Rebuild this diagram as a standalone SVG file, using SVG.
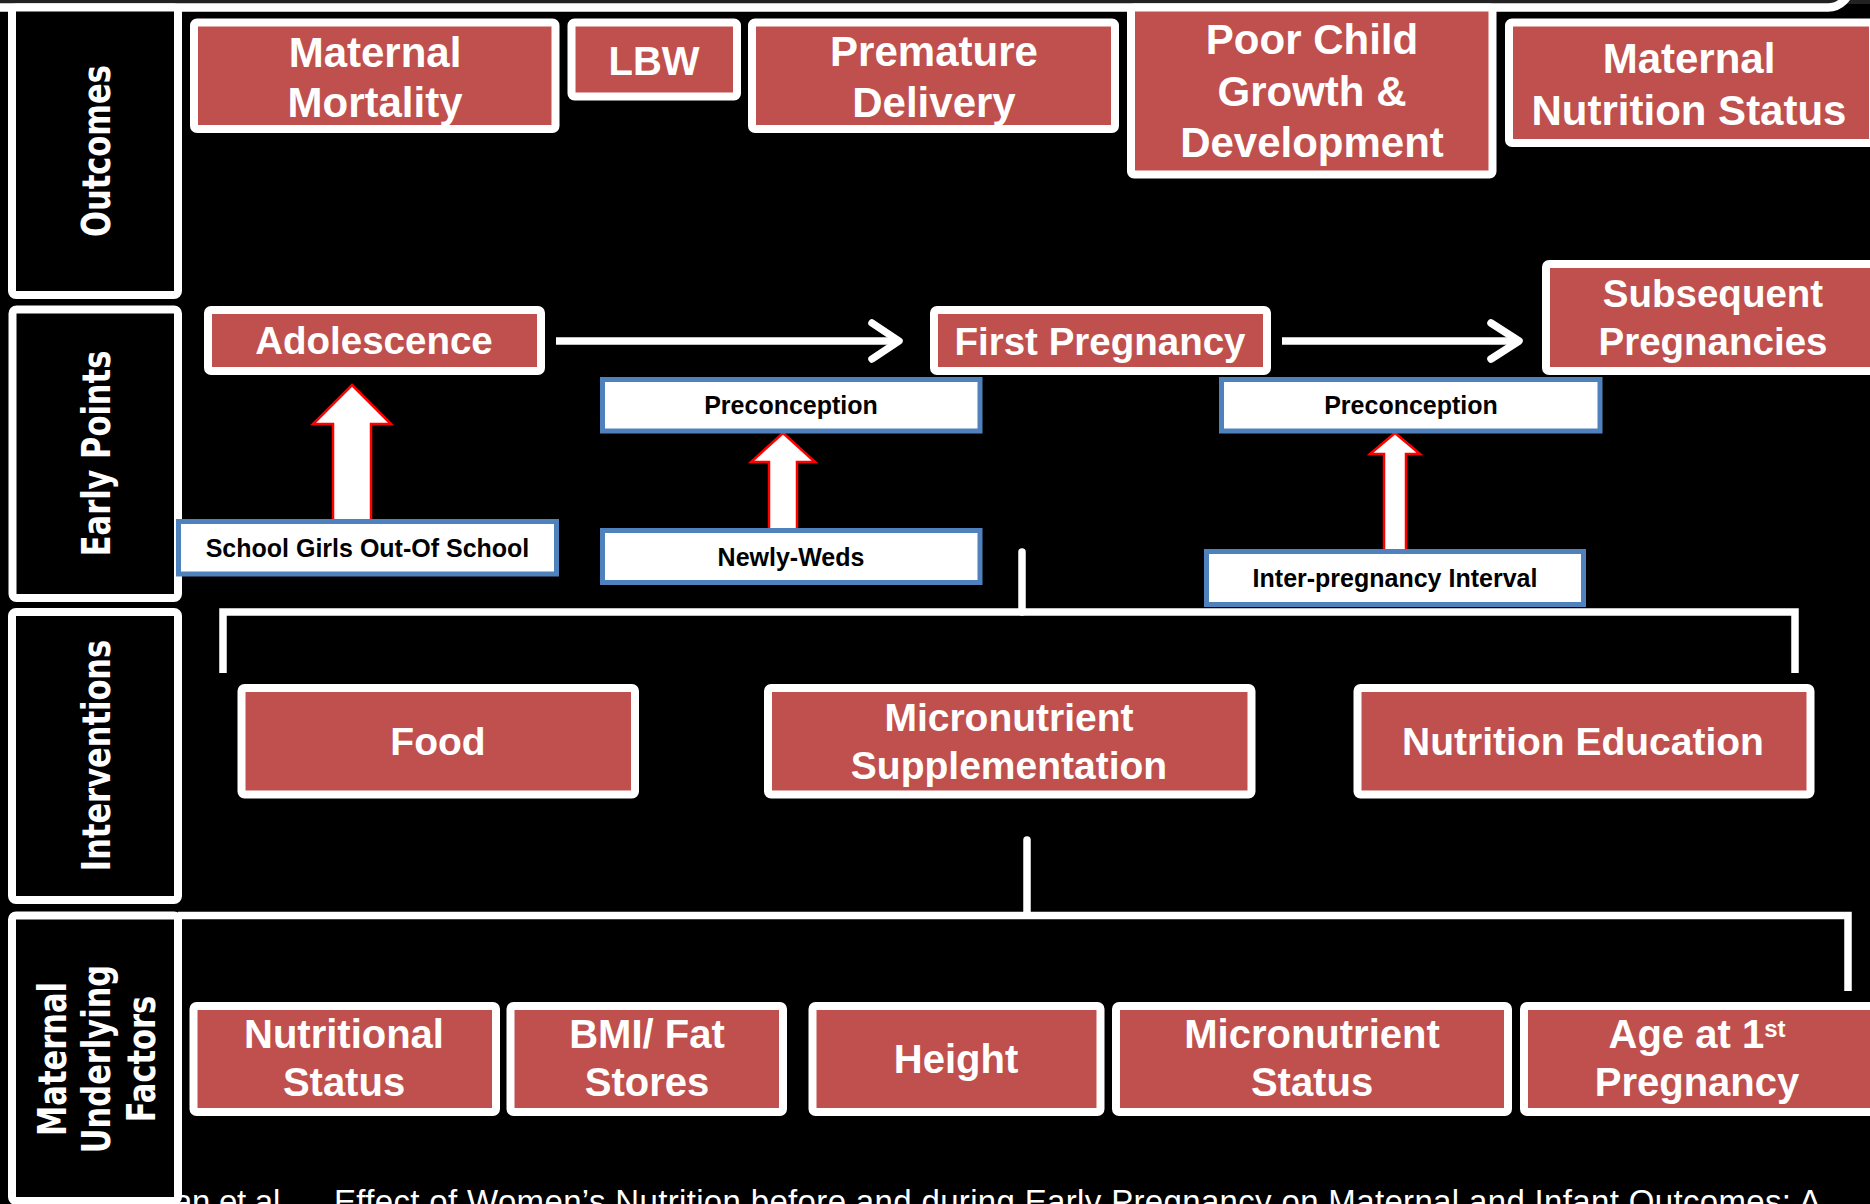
<svg xmlns="http://www.w3.org/2000/svg" width="1870" height="1204" viewBox="0 0 1870 1204">
<defs>
<style>
.red rect {fill:#C0504D; stroke:#FFFFFF; stroke-width:8;}
.red text {fill:#FFFFFF; font-family:"Liberation Sans", Arial, sans-serif; font-weight:bold; text-anchor:middle;}
.blue rect {fill:#FFFFFF; stroke:#4F81BD; stroke-width:5;}
.blue text {fill:#000000; font-family:"Liberation Sans", Arial, sans-serif; font-weight:bold; font-size:25px; text-anchor:middle;}
.lab rect {fill:#000000; stroke:#FFFFFF; stroke-width:8;}
.lab text {fill:#FFFFFF; font-family:"DejaVu Sans", Verdana, sans-serif; font-weight:bold; font-size:30.5px; text-anchor:middle;}
.wire {fill:none; stroke:#FFFFFF; stroke-width:7.5;}
.chev {fill:none; stroke:#FFFFFF; stroke-width:7.5; stroke-linecap:round; stroke-linejoin:round;}
.block {fill:#FFFFFF; stroke:#FF0000; stroke-width:2.5;}
.cite {fill:#FFFFFF; font-family:"Liberation Sans", Arial, sans-serif; font-size:33px;}
</style>
</defs>
<rect x="0" y="0" width="1870" height="1204" fill="#000000"/>
<rect x="0" y="0" width="1870" height="4" fill="#222222"/>
<path d="M 0 7.5 H 1828 A 22 22 0 0 0 1850 -14.5" fill="none" stroke="#FFFFFF" stroke-width="8.5"/>

<text class="cite" x="174" y="1213" textLength="124">an et al.,</text>
<text class="cite" x="334" y="1213" textLength="1487">Effect of Women’s Nutrition before and during Early Pregnancy on Maternal and Infant Outcomes: A</text>

<g id="label-outcomes" class="lab">
<rect x="12" y="7.5" width="166" height="287.5" rx="4"/>
<text transform="translate(110,151) scale(1.3,1) rotate(-90)">Outcomes</text>
</g>
<g id="label-early-points" class="lab">
<rect x="12.5" y="309.5" width="165.5" height="288.5" rx="4"/>
<text transform="translate(110,453.5) scale(1.3,1) rotate(-90)">Early Points</text>
</g>
<g id="label-interventions" class="lab">
<rect x="12" y="612" width="166" height="288" rx="4"/>
<text transform="translate(110,755.5) scale(1.3,1) rotate(-90)">Interventions</text>
</g>
<g id="label-underlying" class="lab">
<rect x="12" y="915.5" width="166" height="285.5" rx="4"/>
<text transform="translate(66,1059) scale(1.3,1) rotate(-90)">Maternal</text>
<text transform="translate(110,1059) scale(1.3,1) rotate(-90)">Underlying</text>
<text transform="translate(155,1059) scale(1.3,1) rotate(-90)">Factors</text>
</g>

<g id="connectors">
<path class="wire" d="M 556 341 H 897"/>
<path class="chev" d="M 872 323 L 899 341 L 872 359"/>
<path class="wire" d="M 1282 341 H 1517"/>
<path class="chev" d="M 1491 323 L 1519 341 L 1491 359"/>
<polygon class="block" points="352,385 391,424 371,424 371,523 333,523 333,424 313,424"/>
<polygon class="block" points="783,433 815,462 797,462 797,532 769,532 769,462 751,462"/>
<polygon class="block" points="1395,433 1420,454 1406,454 1406,553 1384,553 1384,454 1370,454"/>
<path class="wire" d="M 1022 552 V 612" stroke-linecap="round"/>
<path class="wire" d="M 223 673 V 612 H 1795 V 673"/>
<path class="wire" d="M 1027 840 V 915" stroke-linecap="round"/>
<path class="wire" d="M 178 915.5 H 1848 V 991"/>
</g>

<g id="maternal-mortality" class="red">
<rect x="194" y="22.5" width="361.5" height="106.5" rx="3"/>
<text x="375" y="67" font-size="42">Maternal</text>
<text x="375" y="117" font-size="42">Mortality</text>
</g>
<g id="lbw" class="red">
<rect x="571.5" y="22.5" width="165.5" height="74" rx="3"/>
<text x="654" y="75" font-size="40">LBW</text>
</g>
<g id="premature-delivery" class="red">
<rect x="752" y="22.5" width="363" height="106.5" rx="3"/>
<text x="934" y="66" font-size="42">Premature</text>
<text x="934" y="117" font-size="42">Delivery</text>
</g>
<g id="poor-child-growth" class="red">
<rect x="1131" y="7.5" width="361.5" height="167" rx="3"/>
<text x="1312" y="54" font-size="42">Poor Child</text>
<text x="1312" y="106" font-size="42">Growth &amp;</text>
<text x="1312" y="157" font-size="42">Development</text>
</g>
<g id="maternal-nutrition-status" class="red">
<rect x="1509" y="22.5" width="364" height="120.5" rx="3"/>
<text x="1689" y="73" font-size="42">Maternal</text>
<text x="1689" y="125" font-size="42">Nutrition Status</text>
</g>

<g id="adolescence" class="red">
<rect x="208" y="310" width="333" height="61" rx="3"/>
<text x="374" y="354" font-size="38.5">Adolescence</text>
</g>
<g id="first-pregnancy" class="red">
<rect x="934" y="310" width="333" height="61" rx="3"/>
<text x="1100" y="355" font-size="38.5">First Pregnancy</text>
</g>
<g id="subsequent-pregnancies" class="red">
<rect x="1546" y="264" width="340" height="107" rx="3"/>
<text x="1713" y="307" font-size="38.5">Subsequent</text>
<text x="1713" y="355" font-size="38.5">Pregnancies</text>
</g>

<g id="preconception-1" class="blue">
<rect x="602.5" y="379.5" width="377.5" height="51.5"/>
<text x="791" y="414">Preconception</text>
</g>
<g id="preconception-2" class="blue">
<rect x="1221.5" y="379.5" width="378.5" height="51.5"/>
<text x="1411" y="414">Preconception</text>
</g>
<g id="school-girls" class="blue">
<rect x="178.5" y="521.5" width="378" height="52.5"/>
<text x="367.5" y="557">School Girls Out-Of School</text>
</g>
<g id="newly-weds" class="blue">
<rect x="602.5" y="530.5" width="377.5" height="52"/>
<text x="791" y="566">Newly-Weds</text>
</g>
<g id="inter-pregnancy" class="blue">
<rect x="1206.5" y="551.5" width="377" height="53"/>
<text x="1395" y="587">Inter-pregnancy Interval</text>
</g>

<g id="food" class="red">
<rect x="241.5" y="688" width="393.5" height="106.5" rx="3"/>
<text x="438" y="755" font-size="39">Food</text>
</g>
<g id="micronutrient-supplementation" class="red">
<rect x="768" y="688" width="483.5" height="106.5" rx="3"/>
<text x="1009" y="731" font-size="39">Micronutrient</text>
<text x="1009" y="779" font-size="39">Supplementation</text>
</g>
<g id="nutrition-education" class="red">
<rect x="1357.5" y="688" width="453" height="106.5" rx="3"/>
<text x="1583" y="755" font-size="39">Nutrition Education</text>
</g>

<g id="nutritional-status" class="red">
<rect x="193.5" y="1006" width="302.5" height="106" rx="3"/>
<text x="344" y="1048" font-size="40">Nutritional</text>
<text x="344" y="1096" font-size="40">Status</text>
</g>
<g id="bmi-fat-stores" class="red">
<rect x="510.5" y="1006" width="272.5" height="106" rx="3"/>
<text x="647" y="1048" font-size="40">BMI/ Fat</text>
<text x="647" y="1096" font-size="40">Stores</text>
</g>
<g id="height" class="red">
<rect x="812.5" y="1006" width="288" height="106" rx="3"/>
<text x="956" y="1073" font-size="40">Height</text>
</g>
<g id="micronutrient-status" class="red">
<rect x="1116" y="1006" width="392" height="106" rx="3"/>
<text x="1312" y="1048" font-size="40">Micronutrient</text>
<text x="1312" y="1096" font-size="40">Status</text>
</g>
<g id="age-first-pregnancy" class="red">
<rect x="1524" y="1006" width="350" height="106" rx="3"/>
<text x="1697" y="1048" font-size="40">Age at 1<tspan dy="-11" font-size="24">st</tspan></text>
<text x="1697" y="1096" font-size="40">Pregnancy</text>
</g>
</svg>
